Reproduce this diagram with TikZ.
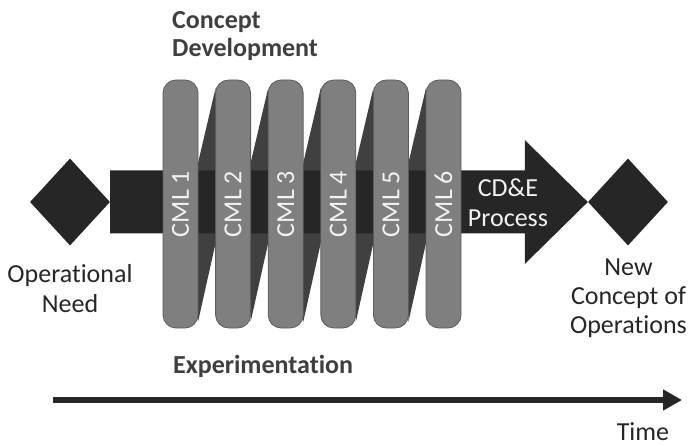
\documentclass[tikz,border=0pt]{standalone}
\usepackage{fontspec}
\setmainfont{Carlito}[Ligatures=NoCommon]
\usetikzlibrary{shapes.geometric,arrows.meta,calc}
\definecolor{ink}{HTML}{262626}
\definecolor{coil}{HTML}{404040}
\definecolor{cml}{HTML}{7F7F7F}
\definecolor{cmledge}{HTML}{5C5C5C}
\definecolor{paper}{HTML}{F2F2F2}
\definecolor{heading}{HTML}{3F3F3F}
\begin{document}
\begin{tikzpicture}[x=1pt,y=-1pt,
  lbl/.style={font=\fontsize{26}{30}\selectfont, text=ink, inner sep=0pt, align=center},
  headtext/.style={font=\bfseries\fontsize{26}{28}\selectfont, text=heading, inner sep=0pt, align=left},
  gem/.style={diamond, fill=ink, inner sep=0pt, minimum width=80pt, minimum height=87pt},
  cmlbar/.style={rectangle, rounded corners=13pt, fill=cml, draw=cmledge, line width=0.8pt,
    rotate=90, minimum width=248pt, minimum height=35pt, inner sep=0pt,
    text=paper, font=\fontsize{26}{30}\selectfont},
  coilband/.style={fill=coil},
  timeline/.style={draw=ink, line width=6.5pt, -{Triangle[length=19pt,width=20pt]}},
]
\useasboundingbox (0,0) rectangle (688,446);

% centres of the six CML columns
\foreach \i in {1,...,6}
  \coordinate (p\i) at ({180.5+52.6*(\i-1)},204);

% back side of the coil: bands from the bottom of one column to the top of the next
\foreach \a/\b in {p1/p2,p2/p3,p3/p4,p4/p5,p5/p6}
  \fill[coilband] ($(\a)+(17.5,-41)$) -- ($(\b)+(-17.5,-116)$)
                  -- ($(\b)+(-17.5,39)$) -- ($(\a)+(17.5,118)$) -- cycle;

% start and end diamonds
\node[gem] (needL) at (70,202) {};
\node[gem] (newC) at (628,202) {};

% process arrow running from one diamond to the other
\fill[ink] ($(needL.east)+(0,-31.5)$) -- ($(newC.west)+(-63,-31.5)$)
  -- ($(newC.west)+(-63,-62)$) -- (newC.west) -- ($(newC.west)+(-63,62)$)
  -- ($(newC.west)+(-63,31.5)$) -- ($(needL.east)+(0,31.5)$) -- cycle;

% CML columns
\foreach \i in {1,...,6}
  \node[cmlbar] (c\i) at (p\i) {CML \i};

% labels
\node[lbl, text=paper] (proc) at (508,203) {CD\&E\\Process};
\node[lbl, anchor=north] (needtxt) at (70,264) {Operational\\Need};
\node[lbl, anchor=north, font=\fontsize{26}{29}\selectfont] (newtxt) at (628.5,259) {New\\Concept of\\Operations};
\node[headtext, anchor=north west] (cdtxt) at (172,11) {Concept\\Development};
\node[headtext, anchor=base west] (exptxt) at (173,373) {Experimentation};

% time axis
\coordinate (t0) at (53,400);
\coordinate (t1) at (682,400);
\draw[timeline] (t0) -- (t1);
\node[lbl, anchor=base] (timetxt) at (643,440) {Time};
\end{tikzpicture}
\end{document}
